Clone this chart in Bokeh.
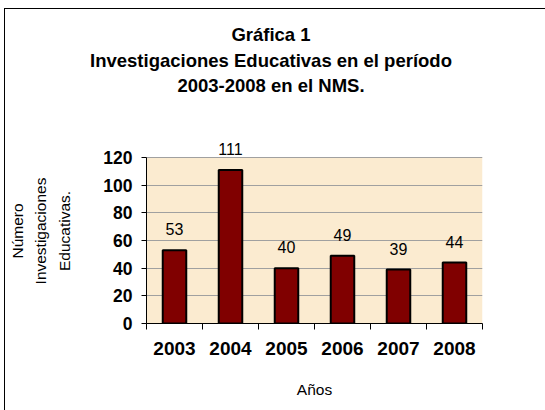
from bokeh.plotting import figure
from bokeh.layouts import column
from bokeh.models import (ColumnDataSource, FixedTicker, LabelSet, Range1d, BoxAnnotation, Div)
from bokeh.core.properties import value
from bokeh.embed import file_html
from bokeh.resources import INLINE

# ---- data ----
years = ["2003", "2004", "2005", "2006", "2007", "2008"]
counts = [53, 111, 40, 49, 39, 44]
y_ticks = [0, 20, 40, 60, 80, 100, 120]
y_max = 120
title_lines = ["Gráfica 1",
               "Investigaciones Educativas en el período",
               "2003-2008 en el NMS."]
y_label = "Número\nInvestigaciones\nEducativas."
x_label = "Años"

FONT = "Liberation Sans"
W = 540
TH = 110           # height of the title strip
MH = 401 - TH      # height of the chart strip

# ---------------- title strip ----------------
title = Div(text="<br>".join(title_lines), width=W, height=TH, margin=0,
            styles={"font-family": FONT, "font-weight": "bold", "font-size": "18.5px",
                    "line-height": "25.5px", "text-align": "center", "color": "black",
                    "padding-top": "13px", "padding-right": "8px",
                    "box-sizing": "border-box", "background": "white"})

# ---------------- chart ----------------
xs = [i + 0.5 for i in range(len(years))]
src = ColumnDataSource(dict(x=xs, top=counts, lbl=[str(c) for c in counts]))

p = figure(width=W, height=MH, output_backend="svg", toolbar_location=None,
           x_range=Range1d(0, len(years)), y_range=Range1d(0, 133.7),
           min_border_left=140, min_border_right=63,
           min_border_top=19, min_border_bottom=87)

p.background_fill_color = "white"
p.border_fill_color = "white"
p.outline_line_color = None

# plot-area fill only up to the top of the value axis
p.add_layout(BoxAnnotation(bottom=0, top=y_max, fill_color="#FBEBD0", fill_alpha=1,
                           line_color=None, level="image"))

p.vbar(x="x", top="top", width=0.42, source=src,
       fill_color="#800000", line_color="black", line_width=2)

# x axis
p.xaxis.ticker = FixedTicker(ticks=xs, minor_ticks=list(range(len(years) + 1)))
p.xaxis.major_label_overrides = {x: y for x, y in zip(xs, years)}
p.xaxis.major_tick_out = 0
p.xaxis.major_tick_in = 0
p.xaxis.minor_tick_out = 6
p.xaxis.minor_tick_in = 0
p.xaxis.minor_tick_line_color = "black"
p.xaxis.axis_line_color = "black"
p.xaxis.major_label_text_font = FONT
p.xaxis.major_label_text_font_style = "bold"
p.xaxis.major_label_text_font_size = "19px"
p.xaxis.major_label_text_color = "black"
p.xaxis.major_label_standoff = 12
p.xaxis.axis_label = x_label
p.xaxis.axis_label_text_font = FONT
p.xaxis.axis_label_text_font_style = "normal"
p.xaxis.axis_label_text_font_size = "15.5px"
p.xaxis.axis_label_text_color = "black"
p.xaxis.axis_label_standoff = 23

# y axis
p.yaxis.ticker = FixedTicker(ticks=y_ticks, minor_ticks=[])
p.yaxis.bounds = (0, y_max)
p.yaxis.major_tick_out = 5
p.yaxis.major_tick_in = 0
p.yaxis.major_tick_line_color = "black"
p.yaxis.axis_line_color = "black"
p.yaxis.major_label_text_font = FONT
p.yaxis.major_label_text_font_style = "bold"
p.yaxis.major_label_text_font_size = "17.5px"
p.yaxis.major_label_text_color = "black"
p.yaxis.major_label_standoff = 9
p.yaxis.axis_label = y_label
p.yaxis.axis_label_text_font = FONT
p.yaxis.axis_label_text_font_style = "normal"
p.yaxis.axis_label_text_font_size = "15.5px"
p.yaxis.axis_label_text_color = "black"
p.yaxis.axis_label_text_line_height = 1.4
p.yaxis.axis_label_standoff = 27

p.xgrid.grid_line_color = None
p.ygrid.grid_line_color = "#A0A0A0"
p.ygrid.grid_line_width = 1

# data labels
p.add_layout(LabelSet(x="x", y="top", text="lbl", source=src, y_offset=21,
                      text_align="center", text_baseline="middle",
                      text_font=value(FONT), text_font_size="16px", text_color="black"))

layout = column(title, p, spacing=0,
                styles={"margin-left": "4px", "margin-top": "8px",
                        "border-left": "1px solid #000", "border-top": "1px solid #000"})

open("out.html", "w").write(file_html(layout, INLINE))
